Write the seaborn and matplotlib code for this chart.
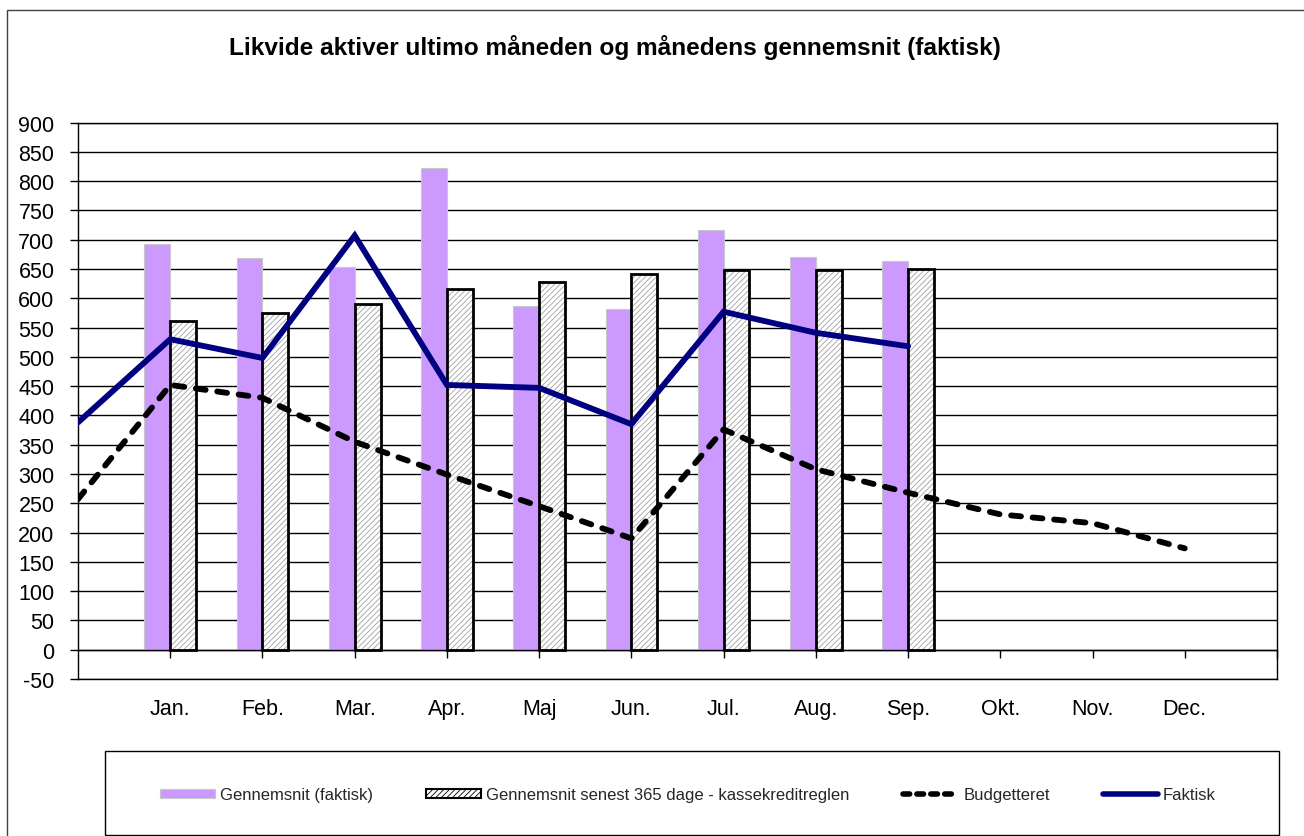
import numpy as np
import pandas as pd
import matplotlib
matplotlib.use("Agg")
import matplotlib.pyplot as plt
from matplotlib.patches import Patch, Rectangle
from matplotlib.lines import Line2D
import seaborn as sns

# ---------------- data ----------------
title = "Likvide aktiver ultimo måneden og månedens gennemsnit (faktisk)"
months = ["Jan.", "Feb.", "Mar.", "Apr.", "Maj", "Jun.", "Jul.", "Aug.", "Sep.", "Okt.", "Nov.", "Dec."]
series_names = ["Gennemsnit (faktisk)", "Gennemsnit senest 365 dage - kassekreditreglen",
                "Budgetteret", "Faktisk"]

# bars: Jan..Sep
gennemsnit = [693, 668, 653, 823, 587, 581, 716, 670, 664]
senest365 = [561, 575, 590, 615, 628, 642, 648, 649, 650]
# lines: first value is the opening point (before Jan.), then Jan..
budgetteret = [257, 452, 430, 355, 299, 245, 190, 376, 308, 268, 231, 216, 173]
faktisk = [388, 530, 498, 707, 452, 447, 385, 577, 541, 518]

yticks = list(range(-50, 901, 50))

# ---------------- style ----------------
sns.set_theme(style="white")
plt.rcParams["font.family"] = ["Liberation Sans", "DejaVu Sans"]
plt.rcParams["axes.unicode_minus"] = False
plt.rcParams["hatch.linewidth"] = 0.6
plt.rcParams["hatch.color"] = "#a0a0a0"

purple = "#CC99FF"
navy = "#000080"
hatch_gray = "#a0a0a0"

W, H = 1304, 837
fig = plt.figure(figsize=(W / 100, H / 100), dpi=100)
fig.patch.set_facecolor("white")
ax = fig.add_axes([78 / W, 1 - 680 / H, (1277 - 78) / W, (680 - 123.5) / H])

# ---------------- bars ----------------
n_bar = len(gennemsnit)
bar_pos = list(range(1, n_bar + 1))
df_bars = pd.DataFrame({
    "pos": bar_pos * 2,
    "value": gennemsnit + senest365,
    "series": [series_names[0]] * n_bar + [series_names[1]] * n_bar,
})
sns.barplot(data=df_bars, x="pos", y="value", hue="series", native_scale=True,
            width=0.56, dodge=True, palette=[purple, "white"], errorbar=None,
            legend=False, ax=ax, zorder=2)

for p in ax.containers[0]:
    p.set_facecolor(purple)
    p.set_edgecolor("#c8c8c8")
    p.set_linewidth(0.8)
for p in ax.containers[1]:
    p.set_facecolor("white")
    p.set_hatch("//////")
    p.set_edgecolor(hatch_gray)
    if hasattr(p, "set_hatchcolor"):
        p.set_hatchcolor(hatch_gray)
    p.set_linewidth(0)
    outline = Rectangle(p.get_xy(), p.get_width(), p.get_height(), fill=False,
                        edgecolor="black", linewidth=2.0, zorder=2.5)
    ax.add_patch(outline)

# ---------------- lines ----------------
df_b = pd.DataFrame({"pos": list(range(len(budgetteret))), "value": budgetteret})
df_f = pd.DataFrame({"pos": list(range(len(faktisk))), "value": faktisk})
n_before = len(ax.lines)
sns.lineplot(data=df_b, x="pos", y="value", color="black", linewidth=4.2, ax=ax, zorder=4)
bl = ax.lines[n_before]
bl.set_dashes([1.7, 2.0])
bl.set_dash_capstyle("round")
sns.lineplot(data=df_f, x="pos", y="value", color=navy, linewidth=4.2, ax=ax, zorder=5)
fl = ax.lines[-1]
fl.set_solid_joinstyle("miter")

# ---------------- axes ----------------
ax.set_xlim(0, 13)
ax.set_ylim(-50, 900)
ax.set_yticks(yticks)
ax.set_xlabel("")
ax.set_ylabel("")
ax.set_axisbelow(True)
ax.yaxis.grid(True, color="black", linewidth=1.0)
ax.xaxis.grid(False)

for s in ["left", "right", "top"]:
    ax.spines[s].set_visible(True)
    ax.spines[s].set_color("black")
    ax.spines[s].set_linewidth(1.0)
ax.spines["bottom"].set_position(("data", 0))
ax.spines["bottom"].set_color("black")
ax.spines["bottom"].set_linewidth(1.0)
ax.set_xticks(range(1, 14))
ax.tick_params(axis="x", bottom=True, direction="out", length=6, width=1,
               color="black", labelbottom=False)
ax.tick_params(axis="y", left=True, direction="out", length=6, width=1,
               color="black", pad=11, labelsize=15.5, labelcolor="black")

secax = ax.secondary_xaxis("bottom")
secax.set_xticks(range(1, 13), labels=months)
secax.tick_params(length=0, pad=14, labelsize=15.5, labelcolor="black")
secax.spines["bottom"].set_color("black")
secax.spines["bottom"].set_linewidth(1.0)

# ---------------- title ----------------
fig.text(615 / W, 1 - 48 / H, title, ha="center", va="center",
         fontsize=17.6, fontweight="bold", color="black")

# ---------------- legend ----------------
handles = [
    Patch(facecolor=purple, edgecolor="#c8c8c8", linewidth=0.8),
    Patch(facecolor="white", edgecolor="black", hatch="//////", linewidth=1.5),
    Line2D([0], [0], color="black", linewidth=4.0, dashes=[1.2, 1.3],
           dash_capstyle="round"),
    Line2D([0], [0], color=navy, linewidth=4.0),
]
fig.legend(handles, series_names, loc="center", bbox_to_anchor=(688 / W, 1 - 796 / H),
           ncol=4, frameon=False, fontsize=12, handlelength=3.3, handleheight=0.5,
           handletextpad=0.3, columnspacing=3.2)
fig.add_artist(Rectangle((105 / W, 1 - 836 / H), (1279 - 105) / W, (836 - 752) / H,
                         transform=fig.transFigure, fill=False, edgecolor="black",
                         linewidth=1.0))
# outer chart border
fig.add_artist(Rectangle((7 / W, -0.1), 1.2, 1 - 11 / H + 0.1,
                         transform=fig.transFigure, fill=False, edgecolor="#404040",
                         linewidth=1.0))

fig.savefig("out.png", dpi=100)
